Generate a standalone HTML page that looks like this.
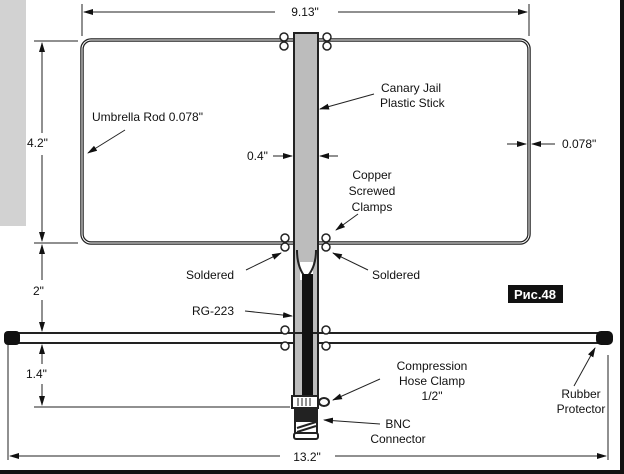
<!DOCTYPE html>
<html><head><meta charset="utf-8"><style>
html,body{margin:0;padding:0;background:#fff;}
svg{display:block;}
text{font-family:"Liberation Sans",sans-serif;font-size:12px;fill:#111;}
</style></head><body>
<svg width="624" height="474" viewBox="0 0 624 474" xmlns="http://www.w3.org/2000/svg">
<defs>
<marker id="a" markerWidth="10" markerHeight="8" refX="9" refY="4" orient="auto" markerUnits="userSpaceOnUse"><path d="M0,1 L10,4 L0,7 Z" fill="#111"/></marker>
</defs>
<rect width="624" height="474" fill="#fff"/>
<rect x="0" y="0" width="26" height="226" fill="#d2d2d2"/>
<rect x="0" y="470" width="624" height="4" fill="#111"/>
<rect x="620" y="0" width="4" height="474" fill="#111"/>
<line x1="82" y1="4" x2="82" y2="36" stroke="#222"/>
<line x1="529" y1="4" x2="529" y2="36" stroke="#222"/>
<line x1="275" y1="12" x2="84" y2="12" stroke="#222" marker-end="url(#a)"/>
<line x1="338" y1="12" x2="527" y2="12" stroke="#222" marker-end="url(#a)"/>
<text x="305" y="16" text-anchor="middle">9.13"</text>
<line x1="34" y1="41" x2="78" y2="41" stroke="#222"/>
<line x1="34" y1="243" x2="78" y2="243" stroke="#222"/>
<line x1="34" y1="333" x2="40" y2="333" stroke="#222"/>
<line x1="34" y1="407" x2="290" y2="407" stroke="#222"/>
<line x1="42" y1="133" x2="42" y2="43" stroke="#222" marker-end="url(#a)"/>
<line x1="42" y1="155" x2="42" y2="241" stroke="#222" marker-end="url(#a)"/>
<line x1="42" y1="280" x2="42" y2="245" stroke="#222" marker-end="url(#a)"/>
<line x1="42" y1="300" x2="42" y2="331" stroke="#222" marker-end="url(#a)"/>
<line x1="42" y1="364" x2="42" y2="345" stroke="#222" marker-end="url(#a)"/>
<line x1="42" y1="384" x2="42" y2="405" stroke="#222" marker-end="url(#a)"/>
<text x="27" y="147">4.2"</text>
<text x="33" y="295">2"</text>
<text x="26" y="378">1.4"</text>
<line x1="8" y1="345" x2="8" y2="460" stroke="#222"/>
<line x1="608" y1="355" x2="608" y2="460" stroke="#222"/>
<line x1="280" y1="456" x2="10" y2="456" stroke="#222" marker-end="url(#a)"/>
<line x1="335" y1="456" x2="606" y2="456" stroke="#222" marker-end="url(#a)"/>
<text x="307" y="461" text-anchor="middle">13.2"</text>
<rect x="82" y="40" width="447" height="203" rx="9" fill="none" stroke="#222" stroke-width="3.5"/>
<rect x="82" y="40" width="447" height="203" rx="9" fill="none" stroke="#fff" stroke-width="1"/>
<rect x="10" y="333" width="592" height="10" fill="#fff" stroke="#222" stroke-width="2"/>
<rect x="4" y="331" width="16" height="14" rx="4" fill="#111"/>
<rect x="596" y="331" width="17" height="14" rx="5" fill="#111"/>
<rect x="294" y="33" width="24" height="300" fill="#bcbcbc" stroke="#222" stroke-width="2"/>
<rect x="294" y="333" width="24" height="65" fill="#bcbcbc" stroke="#222" stroke-width="2"/>
<path d="M300,262 L300,280 L313,280 L313,262 Z" fill="#fff"/>
<path d="M297,250 Q297,268 306,278 Q316,268 316,250" fill="none" stroke="#222" stroke-width="2"/>
<rect x="302" y="274" width="11" height="124" fill="#111"/>
<g fill="#fff" stroke="#222" stroke-width="1.5">
<circle cx="284" cy="37" r="4"/><circle cx="327" cy="37" r="4"/>
<circle cx="284" cy="46" r="4"/><circle cx="327" cy="46" r="4"/>
<circle cx="285" cy="238" r="4"/><circle cx="326" cy="238" r="4"/>
<circle cx="285" cy="247" r="4"/><circle cx="326" cy="247" r="4"/>
<circle cx="285" cy="330" r="4"/><circle cx="326" cy="330" r="4"/>
<circle cx="285" cy="346" r="4"/><circle cx="326" cy="346" r="4"/>
</g>
<rect x="292" y="396" width="26" height="12" fill="#fff" stroke="#222" stroke-width="2"/>
<g stroke="#222"><line x1="298" y1="398" x2="298" y2="406"/><line x1="302" y1="398" x2="302" y2="406"/><line x1="306" y1="398" x2="306" y2="406"/><line x1="310" y1="398" x2="310" y2="406"/></g>
<ellipse cx="324" cy="402" rx="5" ry="4" fill="#fff" stroke="#222" stroke-width="2"/>
<rect x="294" y="409" width="24" height="12" fill="#222"/>
<rect x="295" y="421" width="22" height="12" fill="#fff" stroke="#222" stroke-width="2"/>
<path d="M297,428 L316,422 M297,432 L316,426" stroke="#222" stroke-width="2"/>
<rect x="294" y="433" width="24" height="6" rx="2" fill="#fff" stroke="#222" stroke-width="2"/>
<text x="92" y="121">Umbrella Rod 0.078"</text>
<line x1="125" y1="130" x2="88" y2="153" stroke="#222" marker-end="url(#a)"/>
<text x="381" y="92">Canary Jail</text>
<text x="380" y="107">Plastic Stick</text>
<line x1="374" y1="94" x2="320" y2="109" stroke="#222" marker-end="url(#a)"/>
<text x="247" y="160">0.4"</text>
<line x1="273" y1="156" x2="292" y2="156" stroke="#222" marker-end="url(#a)"/>
<line x1="338" y1="156" x2="320" y2="156" stroke="#222" marker-end="url(#a)"/>
<text x="562" y="148">0.078"</text>
<line x1="507" y1="144" x2="526" y2="144" stroke="#222" marker-end="url(#a)"/>
<line x1="555" y1="144" x2="532" y2="144" stroke="#222" marker-end="url(#a)"/>
<text x="372" y="179" text-anchor="middle">Copper</text>
<text x="372" y="195" text-anchor="middle">Screwed</text>
<text x="372" y="211" text-anchor="middle">Clamps</text>
<line x1="358" y1="214" x2="336" y2="230" stroke="#222" marker-end="url(#a)"/>
<text x="186" y="279">Soldered</text>
<line x1="246" y1="270" x2="281" y2="253" stroke="#222" marker-end="url(#a)"/>
<text x="372" y="279">Soldered</text>
<line x1="368" y1="270" x2="333" y2="253" stroke="#222" marker-end="url(#a)"/>
<text x="192" y="315">RG-223</text>
<line x1="245" y1="311" x2="292" y2="316" stroke="#222" marker-end="url(#a)"/>
<text x="432" y="370" text-anchor="middle">Compression</text>
<text x="432" y="385" text-anchor="middle">Hose Clamp</text>
<text x="432" y="400" text-anchor="middle">1/2"</text>
<line x1="380" y1="379" x2="333" y2="400" stroke="#222" marker-end="url(#a)"/>
<text x="398" y="428" text-anchor="middle">BNC</text>
<text x="398" y="443" text-anchor="middle">Connector</text>
<line x1="380" y1="424" x2="324" y2="420" stroke="#222" marker-end="url(#a)"/>
<text x="581" y="398" text-anchor="middle">Rubber</text>
<text x="581" y="413" text-anchor="middle">Protector</text>
<line x1="574" y1="386" x2="595" y2="348" stroke="#222" marker-end="url(#a)"/>
<rect x="508" y="285" width="55" height="18" fill="#111"/>
<text x="535" y="299" text-anchor="middle" style="fill:#fff;font-weight:bold;font-size:13px">Рис.48</text>
</svg>
</body></html>
